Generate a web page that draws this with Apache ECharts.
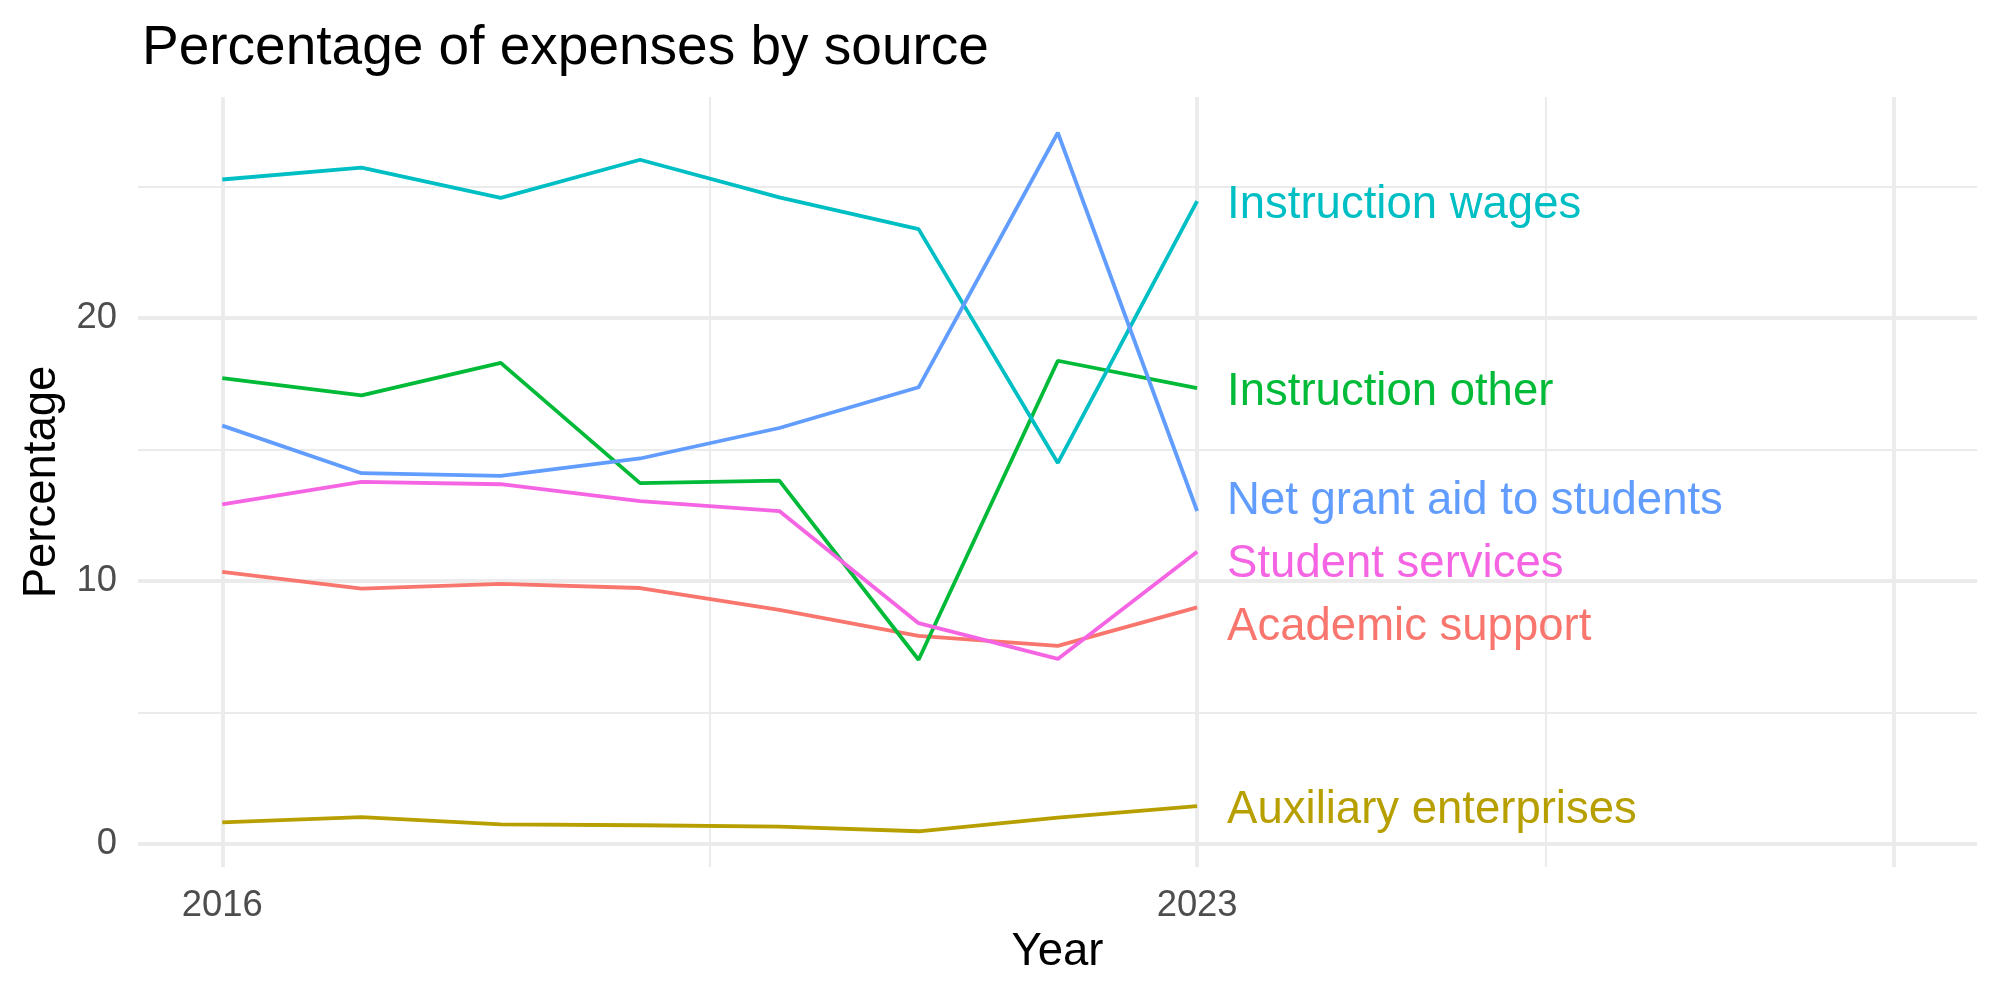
<!DOCTYPE html>
<html>
<head>
<meta charset="utf-8">
<title>Percentage of expenses by source</title>
<script src="https://cdn.jsdelivr.net/npm/echarts@6/dist/echarts.min.js"></script>
<style>
  html, body { margin: 0; padding: 0; background: #fff; }
  #chart { width: 2000px; height: 1000px; }
</style>
</head>
<body>
<div id="chart"></div>
<script>
// data
const years = [2016, 2017, 2018, 2019, 2020, 2021, 2022, 2023];

const academicSupport = [10.34, 9.71, 9.89, 9.73, 8.90, 7.91, 7.53, 8.99];
const auxiliaryEnterprises = [0.81, 1.01, 0.73, 0.70, 0.65, 0.47, 0.99, 1.43];
const instructionOther = [17.72, 17.06, 18.30, 13.72, 13.82, 7.00, 18.38, 17.34];
const instructionWages = [25.28, 25.73, 24.58, 26.03, 24.60, 23.39, 14.49, 24.46];
const netGrantAid = [15.91, 14.10, 14.00, 14.66, 15.82, 17.37, 27.06, 12.66];
const studentServices = [12.91, 13.77, 13.68, 13.04, 12.66, 8.39, 7.03, 11.11];

const xTickLabels = [2016, 2023];
const yTickLabels = [0, 10, 20];

// grid lines (ggplot-style major / minor)
const xMajorGrid = [2016, 2023, 2028];
const xMinorGrid = [2019.5, 2025.5];
const yMajorGrid = [0, 10, 20];
const yMinorGrid = [5, 15, 25];

const FONT = '"Liberation Sans", Arial, sans-serif';
const GRID_COLOR = '#EBEBEB';

// series: name, values, colour, label nudge (px) so labels don't collide
const seriesDefs = [
  { name: 'Academic support', values: academicSupport, color: '#F8766D', dy: 20 },
  { name: 'Auxiliary enterprises', values: auxiliaryEnterprises, color: '#B79F00', dy: 4 },
  { name: 'Instruction other', values: instructionOther, color: '#00BA38', dy: 4 },
  { name: 'Instruction wages', values: instructionWages, color: '#00BFC4', dy: 4 },
  { name: 'Net grant aid to students', values: netGrantAid, color: '#619CFF', dy: -10 },
  { name: 'Student services', values: studentServices, color: '#F564E3', dy: 13 }
];

function gridLine(axis, v, width) {
  const item = { lineStyle: { color: GRID_COLOR, width: width, type: 'solid' } };
  item[axis] = v;
  return item;
}

const gridSeries = {
  name: 'grid',
  type: 'line',
  data: [],
  z: 0,
  silent: true,
  markLine: {
    z: 0,
    silent: true,
    animation: false,
    symbol: ['none', 'none'],
    label: { show: false },
    emphasis: { disabled: true },
    data: [
      ...xMinorGrid.map(v => gridLine('xAxis', v, 1.9)),
      ...yMinorGrid.map(v => gridLine('yAxis', v, 1.9)),
      ...xMajorGrid.map(v => gridLine('xAxis', v, 3.8)),
      ...yMajorGrid.map(v => gridLine('yAxis', v, 3.8))
    ]
  }
};

const lineSeries = seriesDefs.map(s => ({
  name: s.name,
  type: 'line',
  z: 3,
  data: years.map((y, i) => [y, s.values[i]]),
  showSymbol: false,
  symbol: 'none',
  lineStyle: { color: s.color, width: 3.8 },
  itemStyle: { color: s.color },
  emphasis: { disabled: true },
  endLabel: {
    show: true,
    formatter: '{a}',
    color: s.color,
    fontFamily: FONT,
    fontSize: 45.5,
    distance: 30,
    offset: [0, s.dy]
  }
}));

const chart = echarts.init(document.getElementById('chart'), null, { renderer: 'canvas' });

chart.setOption({
  animation: false,
  backgroundColor: '#ffffff',
  title: {
    text: 'Percentage of expenses by source',
    left: 137,
    top: 16,
    textStyle: { fontFamily: FONT, fontSize: 55, fontWeight: 'normal', color: '#000000' }
  },
  grid: { left: 138, right: 23, top: 97, bottom: 133, containLabel: false },
  xAxis: {
    type: 'value',
    min: 2015.395,
    max: 2028.6,
    name: 'Year',
    nameLocation: 'middle',
    nameGap: 62,
    nameTextStyle: { fontFamily: FONT, fontSize: 45.5, color: '#000000' },
    axisLine: { show: false },
    axisTick: { show: false },
    splitLine: { show: false },
    axisLabel: {
      customValues: xTickLabels,
      margin: 21,
      fontFamily: FONT,
      fontSize: 36.4,
      color: '#4D4D4D',
      formatter: v => String(v)
    }
  },
  yAxis: {
    type: 'value',
    min: -0.89,
    max: 28.42,
    name: 'Percentage',
    nameLocation: 'middle',
    nameGap: 68,
    nameRotate: 90,
    nameTextStyle: { fontFamily: FONT, fontSize: 45.5, color: '#000000' },
    axisLine: { show: false },
    axisTick: { show: false },
    splitLine: { show: false },
    axisLabel: {
      customValues: yTickLabels,
      margin: 21,
      fontFamily: FONT,
      fontSize: 36.4,
      color: '#4D4D4D',
      formatter: v => String(v)
    }
  },
  series: [gridSeries, ...lineSeries]
});
</script>
</body>
</html>
